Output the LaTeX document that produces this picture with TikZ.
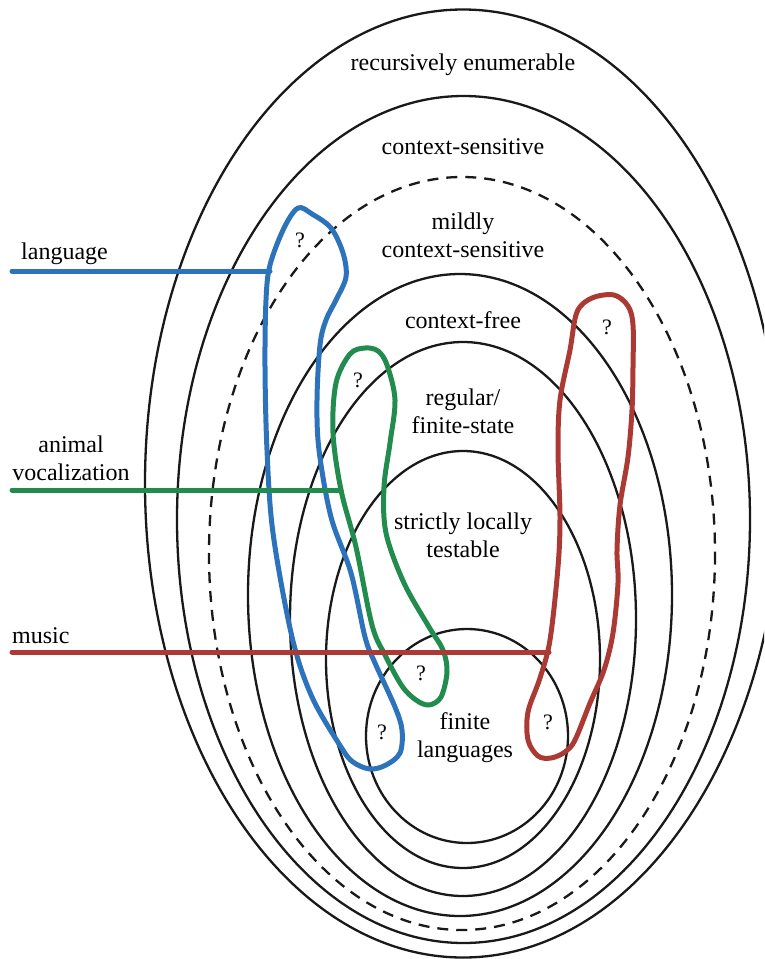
\documentclass[tikz,border=0pt]{standalone}
\usepackage{fontspec}
\setmainfont{Liberation Serif}
\newfontfamily\labelserif{Liberation Serif}
\definecolor{langblue}{RGB}{45,115,188}
\definecolor{animgreen}{RGB}{33,140,78}
\definecolor{musicred}{RGB}{172,58,52}
\tikzset{
  classline/.style={line width=2.3pt, black!90},
  dashline/.style={classline, dash pattern=on 11pt off 8pt},
  loopline/.style={line width=5pt, line join=round, line cap=round},
  lbl/.style={inner sep=0pt, align=center, font=\labelserif\fontsize{24}{28}\selectfont},
  sidelbl/.style={inner sep=0pt, align=center, anchor=west, font=\labelserif\fontsize{24}{28}\selectfont},
  qm/.style={inner sep=0pt, font=\labelserif\fontsize{22}{26}\selectfont}
}
\begin{document}
\begin{tikzpicture}[x=1pt,y=-1pt]
\useasboundingbox (0,0) rectangle (764,959);
\clip (0,0) rectangle (764,959);
% class ellipses
\draw[classline] (463,483.5) ellipse [x radius=318, y radius=474];
\draw[classline] (463.5,519.5) ellipse [x radius=286.5, y radius=423.5];
\draw[dashline] (462,553.5) ellipse [x radius=253, y radius=376.5];
\draw[classline] (460,595) ellipse [x radius=212, y radius=321];
\draw[classline] (463,619) ellipse [x radius=173, y radius=277];
\draw[classline] (463,659.5) ellipse [x radius=137, y radius=208.5];
\draw[classline] (467,736) ellipse [x radius=101, y radius=107];
% class labels
\node[lbl] (re) at (463,65) {recursively enumerable};
\node[lbl] (cs) at (463,147) {context-sensitive};
\node[lbl] (mcs) at (463,235) {mildly\\context-sensitive};
\node[lbl] (cf) at (463,320) {context-free};
\node[lbl] (reg) at (463,411) {regular/\\finite-state};
\node[lbl] (slt) at (463,535) {strictly locally\\testable};
\node[lbl] (fin) at (465,738) {finite\\languages};
% side labels
\node[sidelbl] (lang) at (21,254) {language};
\node[lbl] (anim) at (71,458) {animal\\vocalization};
\node[sidelbl] (mus) at (12,636) {music};
% language loop (blue)
\draw[loopline, langblue] plot[smooth cycle, tension=0.55] coordinates {
 (298,208) (312,214) (331,228) (343,253) (346,277) (336,300) (326,320)
 (320,345) (317,400) (319,450) (331,517) (351,573) (365,637) (375,663)
 (395,707) (402,730) (400,753) (386,765) (370,769) (353,762) (341,747)
 (312,697) (292,637) (273,533) (267,450) (265,367) (266,300) (270,265) (284,228)};
% animal vocalization loop (green)
\draw[loopline, animgreen] plot[smooth cycle, tension=0.55] coordinates {
 (365,348) (378,351) (387,365) (395,400) (390,443) (384,487) (386,533)
 (404,583) (429,627) (443,650) (447,672) (441,697) (429,705) (416,700)
 (402,686) (385,655) (372,625) (356,547) (341,490) (333,433) (336,383) (350,354)};
% music loop (red)
\draw[loopline, musicred] plot[smooth cycle, tension=0.55] coordinates {
 (592,298) (614,295) (628,306) (633,325) (633,367) (632,410) (628,457)
 (620,505) (617,550) (618,583) (613,633) (604,670) (590,703) (575,740)
 (565,752) (551,758) (538,756) (528,740) (528,712) (540,678) (550,640)
 (558,567) (560,517) (558,450) (560,400) (570,350) (577,312)};
% connectors
\coordinate (langfree) at (12,271);
\coordinate (langhit) at (270,271);
\coordinate (animfree) at (12,490);
\coordinate (animhit) at (341,490);
\coordinate (musfree) at (12,652);
\coordinate (mushit) at (549,652);
\draw[loopline, langblue] (langfree) -- (langhit);
\draw[loopline, animgreen] (animfree) -- (animhit);
\draw[loopline, musicred] (musfree) -- (mushit);
% question marks
\node[qm] (q1) at (300,240) {?};
\node[qm] (q2) at (358,380) {?};
\node[qm] (q3) at (607,327) {?};
\node[qm] (q4) at (421,673) {?};
\node[qm] (q5) at (382,732) {?};
\node[qm] (q6) at (548,722) {?};
\end{tikzpicture}
\end{document}
